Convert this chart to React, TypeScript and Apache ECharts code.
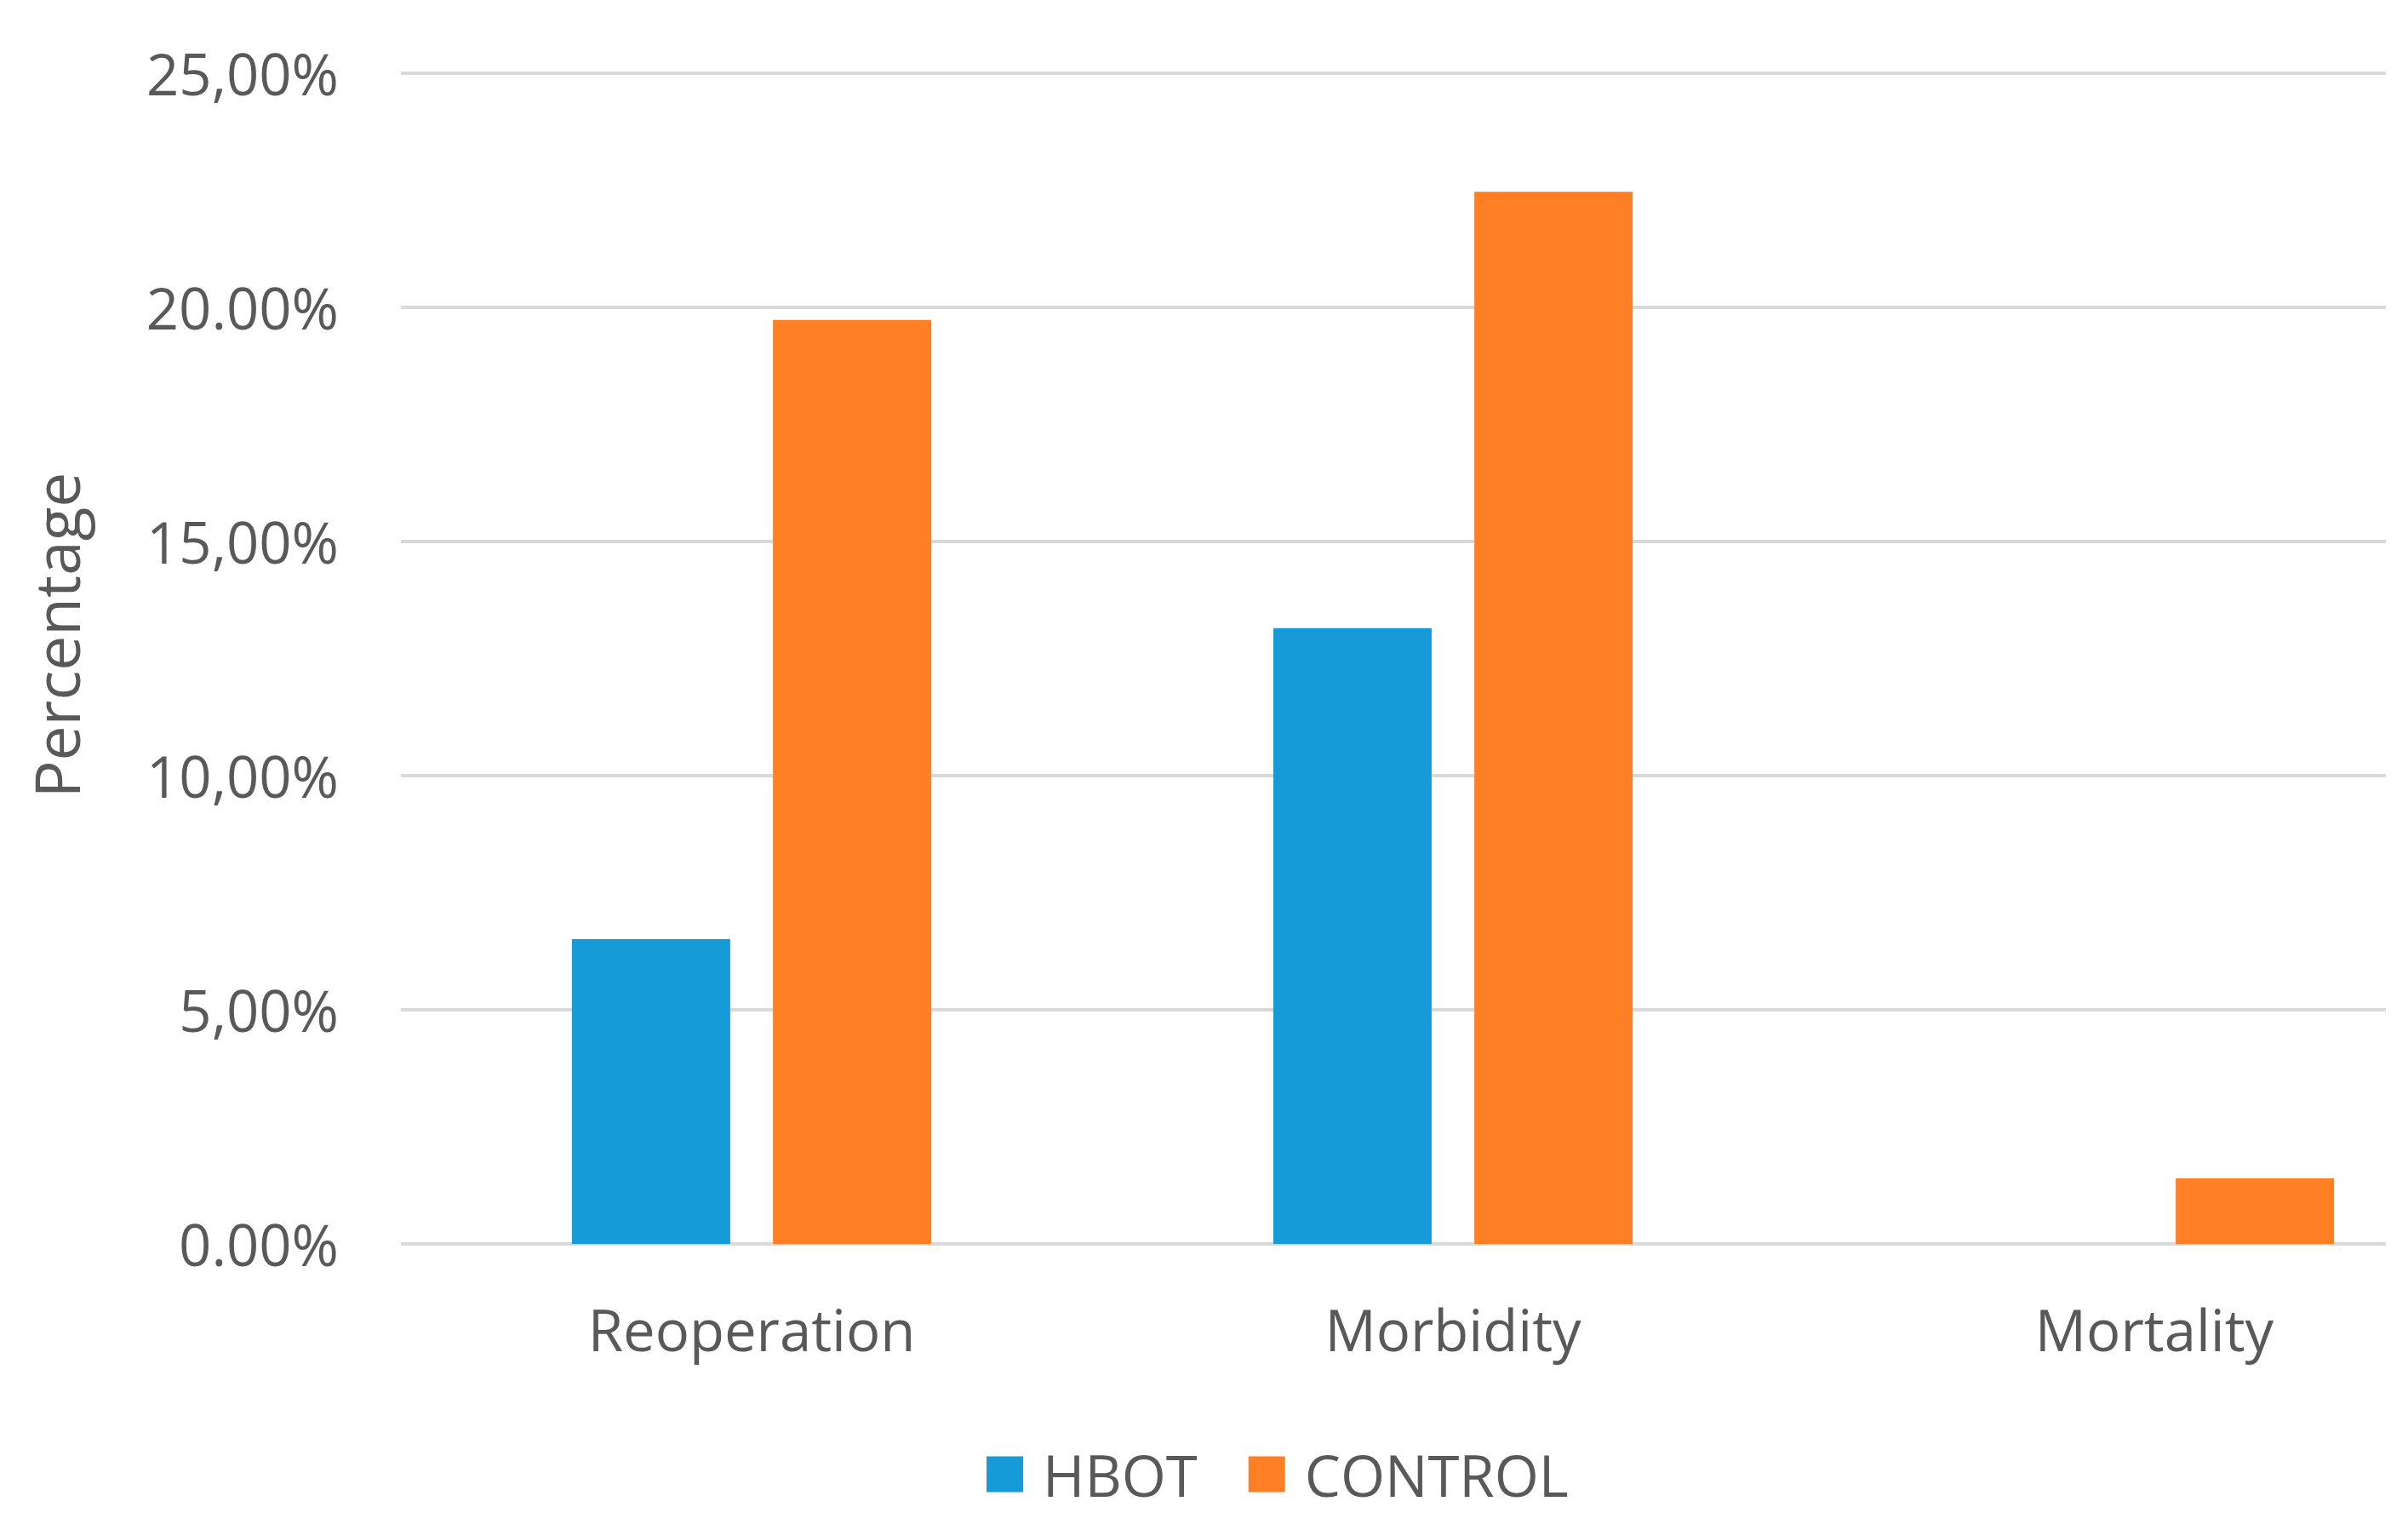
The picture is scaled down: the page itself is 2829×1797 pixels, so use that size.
import React, { useEffect, useRef } from "react";
import * as echarts from "echarts";

const categories = ["Reoperation", "Morbidity", "Mortality"];
const hbotValues = [6.51, 13.15, 0];
const controlValues = [19.73, 22.47, 1.4];
const seriesNames = ["HBOT", "CONTROL"];
const yTickLabels = ["0.00%", "5,00%", "10,00%", "15,00%", "20.00%", "25,00%"];
const yAxisTitle = "Percentage";

const FONT = "'Open Sans', 'Noto Sans', sans-serif";
const TEXT = "#595959";
const BLUE = "#169BD8";
const ORANGE = "#FE7F24";

export default function App() {
  const ref = useRef<HTMLDivElement>(null);

  useEffect(() => {
    if (!ref.current) return;
    const chart = echarts.init(ref.current, undefined, { renderer: "svg" });
    chart.setOption({
      animation: false,
      backgroundColor: "#ffffff",
      textStyle: { fontFamily: FONT },
      grid: { left: 463, top: 78, right: 25, bottom: 328, containLabel: false },
      legend: {
        data: seriesNames,
        left: 1151,
        top: 1690,
        padding: 0,
        itemWidth: 43,
        itemHeight: 42,
        itemGap: 60,
        icon: "rect",
        textStyle: { color: TEXT, fontSize: 67, fontFamily: FONT, padding: [0, 0, 0, 18] },
      },
      xAxis: {
        type: "category",
        data: categories,
        axisLine: { show: false },
        axisTick: { show: false },
        axisLabel: { color: TEXT, fontSize: 67, fontFamily: FONT, margin: 66 },
      },
      yAxis: {
        type: "value",
        min: 0,
        max: 25,
        interval: 5,
        axisLine: { show: false },
        axisTick: { show: false },
        axisLabel: {
          color: TEXT,
          fontSize: 67,
          fontFamily: FONT,
          margin: 73,
          formatter: (v: number) => yTickLabels[Math.round(v / 5)],
        },
        splitLine: { lineStyle: { color: "#d9d9d9", width: 4 } },
      },
      graphic: [
        {
          type: "text",
          x: 57,
          y: 738,
          rotation: Math.PI / 2,
          style: {
            text: yAxisTitle,
            fill: TEXT,
            fontSize: 73,
            fontFamily: FONT,
            align: "center",
            verticalAlign: "middle",
          },
        },
      ],
      series: [
        {
          name: seriesNames[0],
          type: "bar",
          data: hbotValues,
          barWidth: 186,
          barGap: "27%",
          itemStyle: { color: BLUE },
        },
        {
          name: seriesNames[1],
          type: "bar",
          data: controlValues,
          barWidth: 186,
          barGap: "27%",
          itemStyle: { color: ORANGE },
        },
      ],
    });
    return () => chart.dispose();
  }, []);

  return (
    <div style={{ width: 2795, height: 1781, overflow: "hidden", background: "#fff" }}>
      <div ref={ref} style={{ width: 2960, height: 1781 }} />
    </div>
  );
}
